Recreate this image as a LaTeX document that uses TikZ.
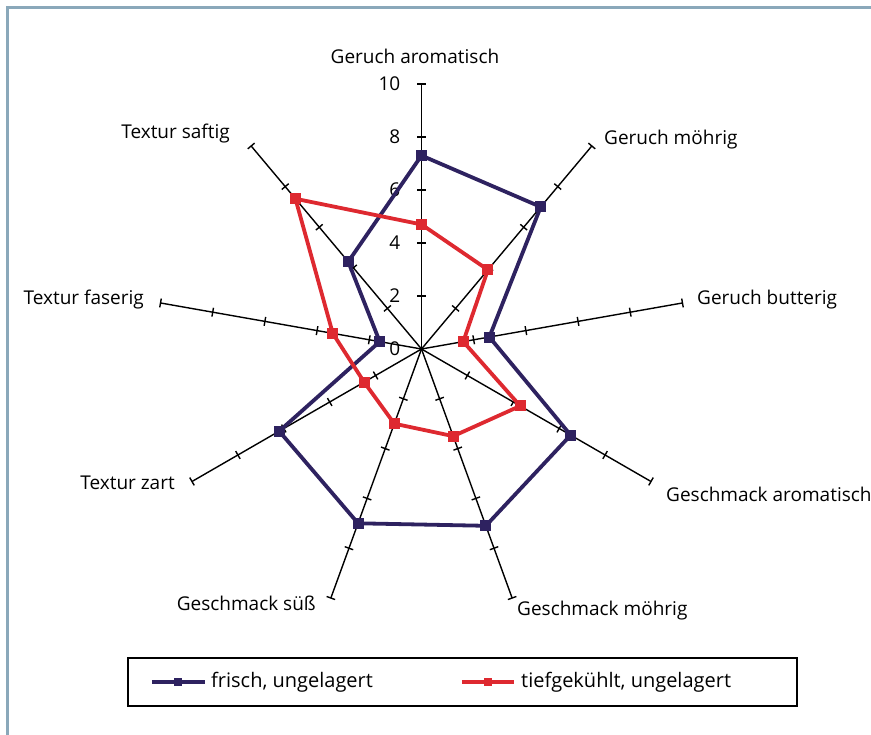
\documentclass[tikz,border=0pt]{standalone}
\usepackage{fontspec}
\setmainfont{Open Sans}
\definecolor{frischblau}{RGB}{46,34,96}
\definecolor{tiefrot}{RGB}{222,41,48}
\definecolor{rahmen}{RGB}{138,168,186}
\begin{document}
\begin{tikzpicture}[x=1pt, y=1pt, font=\fontsize{19}{22}\selectfont,
    achse/.style={black, line width=1.4pt},
    serie/.style={line width=3.8pt, line join=round},
    marke/.style={rectangle, inner sep=0pt, minimum size=11pt, fill=#1},
    beschr/.style={inner sep=0pt},
    legtext/.style={inner sep=0pt, anchor=west, font=\fontsize{20}{24}\selectfont}]
    \useasboundingbox (-421.5,-386) rectangle (449.5,349);
    % Rahmen oben und links
    \draw[rahmen, line width=3pt] (-413.5,-386) -- (-413.5,341) -- (449.5,341);

    \def\rr{26.5}
    % neun Achsen mit Teilstrichen
    \foreach \i in {1,...,9} {
        \pgfmathsetmacro\w{90-40*(\i-1)}
        \draw[achse] (0,0) -- (\w:10*\rr);
        \foreach \k in {2,4,...,10}
            \draw[achse, rotate=\w] (\k*\rr,-4.5) -- (\k*\rr,4.5);
    }
    \foreach \k in {0,2,...,10}
        \node[beschr, anchor=east] (wert\k) at (-21,\k*\rr) {\k};

    \node[beschr] (ga) at (-6.5,293) {Geruch aromatisch};
    \node[beschr, anchor=west] (gm) at (182.5,209) {Geruch möhrig};
    \node[beschr, anchor=west] (gb) at (275.5,49) {Geruch butterig};
    \node[beschr, anchor=west] (sa) at (244.5,-145) {Geschmack aromatisch};
    \node[beschr, anchor=west] (sm) at (95.5,-262) {Geschmack möhrig};
    \node[beschr, anchor=east] (ss) at (-105.5,-254) {Geschmack süß};
    \node[beschr, anchor=east] (tz) at (-246.5,-134) {Textur zart};
    \node[beschr, anchor=east] (tf) at (-277.5,49) {Textur faserig};
    \node[beschr, anchor=east] (ts) at (-191.5,215) {Textur saftig};

    % Messwerte
    \foreach \v [count=\i] in {7.3,7.0,2.6,6.5,7.1,7.0,6.2,1.6,4.3} {
        \pgfmathsetmacro\w{90-40*(\i-1)}
        \coordinate (f\i) at (\w:\v*\rr);
    }
    \foreach \v [count=\i] in {4.7,3.9,1.6,4.3,3.5,3.0,2.5,3.4,7.4} {
        \pgfmathsetmacro\w{90-40*(\i-1)}
        \coordinate (t\i) at (\w:\v*\rr);
    }
    \draw[serie, frischblau] (f1) \foreach \i in {2,...,9} {-- (f\i)} -- cycle;
    \foreach \i in {1,...,9}
        \node[marke=frischblau] (fm\i) at (f\i) {};
    \draw[serie, tiefrot] (t1) \foreach \i in {2,...,9} {-- (t\i)} -- cycle;
    \foreach \i in {1,...,9}
        \node[marke=tiefrot] (tm\i) at (t\i) {};

    % Legende
    \draw[line width=1.8pt] (-293.5,-309) rectangle (375.5,-357);
    \coordinate (lf1) at (-269.5,-333);
    \coordinate (lf2) at (-216.5,-333);
    \draw[serie, frischblau] (lf1) -- (lf2);
    \node[marke=frischblau, minimum size=8pt] (lfm) at (-243,-333) {};
    \node[legtext] (lft) at (-210.5,-333) {frisch, ungelagert};
    \coordinate (lt1) at (40.5,-333);
    \coordinate (lt2) at (92.5,-333);
    \draw[serie, tiefrot] (lt1) -- (lt2);
    \node[marke=tiefrot, minimum size=8pt] (ltm) at (66.5,-333) {};
    \node[legtext] (ltt) at (99.5,-333) {tiefgekühlt, ungelagert};
\end{tikzpicture}
\end{document}
